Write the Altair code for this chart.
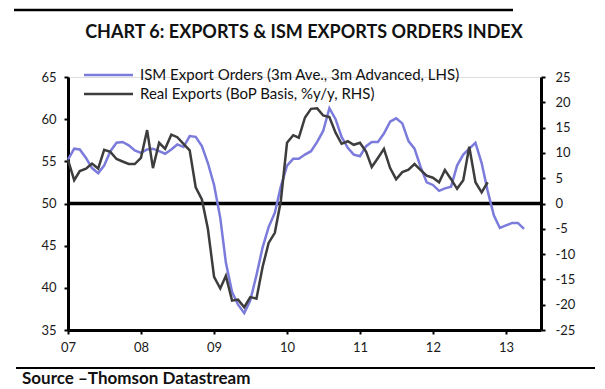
import altair as alt
import pandas as pd

# ---------------- data ----------------
start_month = "2007-01-01"

ism_orders = [
    55.2, 56.5, 56.4, 55.4, 54.2, 53.6, 54.5, 56.2, 57.2, 57.3, 56.9, 56.3,   # 2007
    56.0, 56.4, 56.5, 56.2, 55.9, 56.4, 57.0, 56.7, 58.0, 57.9, 56.8, 54.8,   # 2008
    52.2, 48.3, 43.0, 39.5, 38.0, 37.0, 38.5, 41.5, 44.8, 47.2, 48.9, 52.0,   # 2009
    54.5, 55.3, 55.3, 55.8, 56.2, 57.3, 58.6, 61.3, 60.0, 57.9, 56.6, 55.8,   # 2010
    55.6, 56.8, 57.3, 57.3, 58.3, 59.7, 60.1, 59.5, 57.4, 56.5, 54.3, 52.5,   # 2011
    52.2, 51.5, 51.8, 52.0, 54.5, 55.8, 56.5, 57.2, 54.8, 51.5, 48.6, 47.1,   # 2012
    47.4, 47.7, 47.7, 47.0,                                                   # 2013
]

real_exports = [
    8.6, 4.6, 6.4, 6.9, 7.9, 6.9, 10.6, 10.2, 8.8, 8.3, 7.8, 7.8,             # 2007
    9.0, 14.5, 7.0, 12.0, 10.8, 13.6, 13.1, 11.8, 10.5, 3.2, 0.8, -5.0,       # 2008
    -14.5, -16.8, -14.3, -19.2, -19.0, -20.5, -18.5, -18.8, -12.5, -7.8, -5.8, 0.5,  # 2009
    12.0, 13.5, 13.0, 17.0, 18.7, 18.8, 17.4, 17.1, 14.0, 11.8, 12.3, 11.6,   # 2010
    12.0, 10.2, 7.2, 9.0, 10.8, 7.0, 4.8, 6.2, 6.7, 7.8, 6.6, 5.5,            # 2011
    5.1, 4.2, 6.6, 4.8, 2.9, 4.6, 11.2, 4.2, 2.2, 4.2,                        # 2012
]

ism_label = "ISM Export Orders (3m Ave., 3m Advanced, LHS)"
exp_label = "Real Exports (BoP Basis, %y/y, RHS)"
title_text = "CHART 6: EXPORTS & ISM EXPORTS ORDERS INDEX"
source_text = "Source \u2013Thomson Datastream"

left_ticks = [35, 40, 45, 50, 55, 60, 65]
right_ticks = [-25, -20, -15, -10, -5, 0, 5, 10, 15, 20, 25]

ism_color = "#7b7bdc"
exp_color = "#3d3d3d"
FONT = "Lato"

# ---------------- frames ----------------
ism_dates = pd.date_range(start_month, periods=len(ism_orders), freq="MS").strftime("%Y/%m/%d")
exp_dates = pd.date_range(start_month, periods=len(real_exports), freq="MS").strftime("%Y/%m/%d")
df_ism = pd.DataFrame({"date": list(ism_dates), "value": ism_orders})
df_exp = pd.DataFrame({"date": list(exp_dates), "value": real_exports})

x_scale = alt.Scale(
    domain=[alt.DateTime(year=2007, month=1, date=1), alt.DateTime(year=2013, month=6, date=25)],
    nice=False,
)
x_axis = alt.Axis(
    format="%y", tickCount={"interval": "year", "step": 1}, title=None, grid=False,
    domainColor="black", domainWidth=3, tickColor="black", tickWidth=2, tickSize=4,
    labelFont=FONT, labelFontSize=13, labelColor="#1a1a1a", labelPadding=7, labelFlush=False,
)

ism_line = alt.Chart(df_ism).mark_line(color=ism_color, strokeWidth=2.5).encode(
    x=alt.X("date:T", scale=x_scale, axis=x_axis),
    y=alt.Y("value:Q", scale=alt.Scale(domain=[35, 65], nice=False, zero=False),
            axis=alt.Axis(orient="left", values=left_ticks, title=None, grid=False,
                          domainColor="black", domainWidth=3, tickColor="black", tickWidth=2,
                          tickSize=4, labelFont=FONT, labelFontSize=13, labelColor="#1a1a1a",
                          labelPadding=8)),
)

exp_line = alt.Chart(df_exp).mark_line(color=exp_color, strokeWidth=2.5).encode(
    x=alt.X("date:T", scale=x_scale, axis=x_axis),
    y=alt.Y("value:Q", scale=alt.Scale(domain=[-25, 25], nice=False, zero=False),
            axis=alt.Axis(orient="right", values=right_ticks, title=None, grid=False,
                          domainColor="black", domainWidth=3, tickColor="black", tickWidth=2,
                          tickSize=4, labelFont=FONT, labelFontSize=13, labelColor="#1a1a1a",
                          labelPadding=10, labelExpr="'' + datum.value")),
)

zero_rule = alt.Chart(pd.DataFrame({"v": [50]})).mark_rule(color="black", strokeWidth=3.5).encode(
    y=alt.Y("v:Q", scale=alt.Scale(domain=[35, 65], nice=False, zero=False), axis=None),
)

# ---------------- decorations (legend, title, rules, source) ----------------
leg_df = pd.DataFrame({"label": [ism_label, exp_label], "color": [ism_color, exp_color]})

leg_ism_rule = alt.Chart(leg_df.iloc[[0]]).mark_rule(color=ism_color, strokeWidth=2.5).encode(
    x=alt.value(16), x2=alt.value(65), y=alt.value(-2))
leg_exp_rule = alt.Chart(leg_df.iloc[[1]]).mark_rule(color=exp_color, strokeWidth=2.5).encode(
    x=alt.value(16), x2=alt.value(65), y=alt.value(17))
leg_ism_text = alt.Chart(leg_df.iloc[[0]]).mark_text(
    align="left", baseline="middle", font=FONT, fontSize=15, color="#111").encode(
    text="label:N", x=alt.value(72), y=alt.value(-2))
leg_exp_text = alt.Chart(leg_df.iloc[[1]]).mark_text(
    align="left", baseline="middle", font=FONT, fontSize=15, color="#111").encode(
    text="label:N", x=alt.value(72), y=alt.value(17))

deco_df = pd.DataFrame({"title": [title_text], "source": [source_text]})
title_mark = alt.Chart(deco_df).mark_text(
    align="center", baseline="alphabetic", font=FONT, fontSize=18, fontWeight="bold", color="#111").encode(
    text="title:N", x=alt.value(236), y=alt.value(-39))
top_rule = alt.Chart(deco_df).mark_rule(color="black", strokeWidth=2.5).encode(
    x=alt.value(-54), x2=alt.value(445), y=alt.value(-67))
bottom_rule = alt.Chart(deco_df).mark_rule(color="black", strokeWidth=2).encode(
    x=alt.value(-52), x2=alt.value(527), y=alt.value(291))
source_mark = alt.Chart(deco_df).mark_text(
    align="left", baseline="alphabetic", font=FONT, fontSize=17, fontWeight="bold", color="#111").encode(
    text="source:N", x=alt.value(-46), y=alt.value(307))

chart = alt.layer(
    zero_rule, ism_line, exp_line,
    leg_ism_rule, leg_exp_rule, leg_ism_text, leg_exp_text,
    title_mark, top_rule, bottom_rule, source_mark,
).resolve_scale(y="independent").properties(
    width=473, height=253,
    autosize=alt.AutoSizeParams(type="none"),
    padding={"left": 60, "top": 69, "right": 56, "bottom": 80},
).configure_view(stroke=None).configure(background="white")

chart.save("out.html", embed_options={"renderer": "svg", "actions": False})
